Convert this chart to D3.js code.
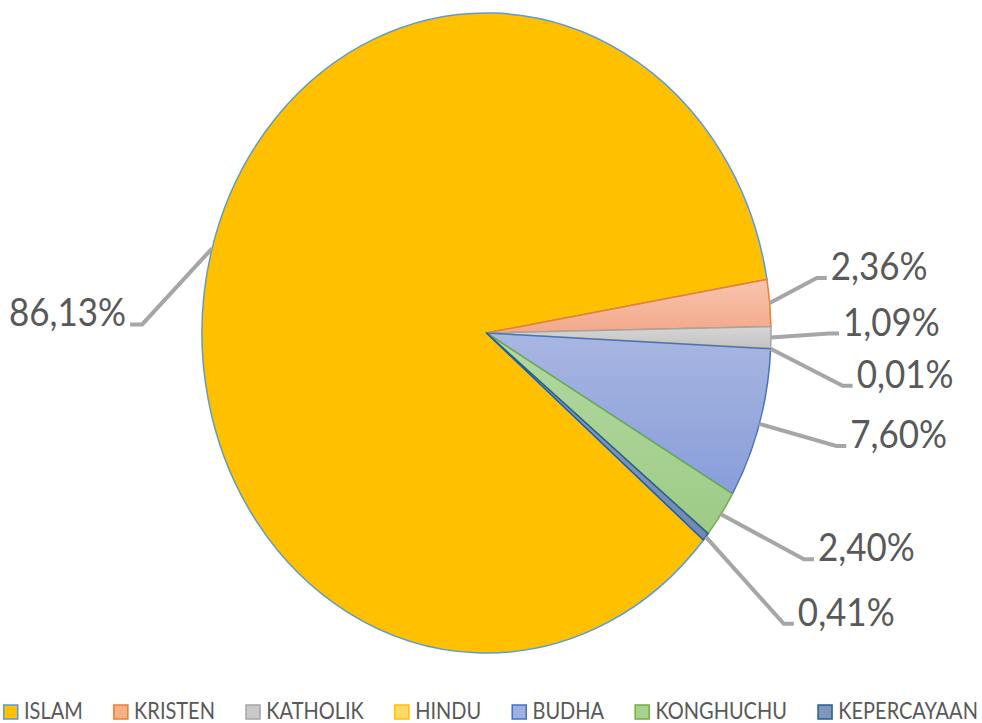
<!DOCTYPE html>
<html>
<head>
<meta charset="utf-8">
<script src="https://cdn.jsdelivr.net/npm/d3@7/dist/d3.min.js"></script>
<style>
  html, body { margin: 0; padding: 0; background: #fff; }
  svg { display: block; }
</style>
</head>
<body>
<svg id="chart" width="982" height="723"></svg>
<script>
// ---- data ----
const categories = ["ISLAM", "KRISTEN", "KATHOLIK", "HINDU", "BUDHA", "KONGHUCHU", "KEPERCAYAAN"];
const values = [86.13, 2.36, 1.09, 0.01, 7.60, 2.40, 0.41];

// ---- styles ----
const fillTop    = ["#FFC000", "#F8C5AE", "#D6D6D6", "#FFDC73", "#A8B6E1", "#B2D8A0", "#8DA2C6"];
const fillBottom = ["#FFC000", "#F3A889", "#C2C2C2", "#FFD454", "#889EDA", "#9ECB86", "#6F88B5"];
const strokes    = ["#5B9BD5", "#ED7D31", "#A5A5A5", "#FFC000", "#4472C4", "#70AD47", "#255E91"];
const legendFill = ["#FFC000", "#F4B183", "#C9C9C9", "#FFD966", "#9DB0E0", "#A9D18E", "#7F96BC"];

// label leader layout: elbow offset from slice edge point (px)
const labelElbow = [[-70, 76], [47, -25], [58, -4], [72, 37], [77, 22], [83, 45], [78, 87]];

const W = 982, H = 723;
const cx = 486.5, cy = 333, rx = 284.5, ry = 320;
const startDeg = 130.3;

const svg = d3.select("#chart");
const defs = svg.append("defs");
categories.forEach((c, i) => {
  const g = defs.append("linearGradient").attr("id", "grad" + i)
    .attr("x1", 0).attr("y1", 0).attr("x2", 0).attr("y2", 1);
  g.append("stop").attr("offset", "0%").attr("stop-color", fillTop[i]);
  g.append("stop").attr("offset", "100%").attr("stop-color", fillBottom[i]);
});

const data = categories.map((c, i) => ({ name: c, value: values[i], i }));
const start = startDeg * Math.PI / 180;
const pie = d3.pie().value(d => d.value).sort(null)
  .startAngle(start).endAngle(start + 2 * Math.PI);
const arcs = pie(data);
const arc = d3.arc().innerRadius(0).outerRadius(ry);

const pieG = svg.append("g")
  .attr("transform", `translate(${cx},${cy}) scale(${rx / ry},1)`);

pieG.selectAll("path.slice").data(arcs).enter().append("path")
  .attr("class", "slice")
  .attr("d", arc)
  .attr("fill", d => `url(#grad${d.data.i})`)
  .attr("stroke", d => strokes[d.data.i])
  .attr("stroke-width", 1.5)
  .attr("stroke-linejoin", "round")
  .attr("vector-effect", "non-scaling-stroke");

// labels
const fmt = v => d3.format(".2f")(v).replace(".", ",") + "%";
const labelG = svg.append("g");
arcs.forEach(a => {
  const i = a.data.i;
  const mid = (a.startAngle + a.endAngle) / 2;
  const ex = cx + rx * Math.sin(mid);
  const ey = cy - ry * Math.cos(mid);
  const bx = ex + labelElbow[i][0];
  const by = ey + labelElbow[i][1];
  const right = bx > ex;
  const endx = right ? bx + 10 : bx - 12;
  labelG.append("polyline")
    .attr("points", `${ex},${ey} ${bx},${by} ${endx},${by}`)
    .attr("fill", "none")
    .attr("stroke", "#A6A6A6")
    .attr("stroke-width", 4);
  const tx = right ? endx + 4 : endx - 4;
  labelG.append("text")
    .attr("transform", `translate(${tx},${by + 2}) scale(1,1.1)`)
    .attr("text-anchor", right ? "start" : "end")
    .attr("font-family", "Lato, 'Open Sans', sans-serif")
    .attr("font-size", 35)
    .attr("fill", "#595959")
    .text(fmt(a.data.value));
});

// legend
const legG = svg.append("g");
const items = legG.selectAll("g.item").data(categories).enter().append("g").attr("class", "item");
items.append("rect")
  .attr("width", 14).attr("height", 14)
  .attr("y", 705)
  .attr("fill", (d, i) => legendFill[i])
  .attr("stroke", (d, i) => strokes[i])
  .attr("stroke-width", 1.5);
items.append("text")
  .attr("font-family", "Lato, 'Open Sans', sans-serif")
  .attr("font-size", 20)
  .attr("fill", "#595959")
  .text(d => d);
// position items across the legend span
const legLeft = 3, legRight = 978;
let widths = [];
items.each(function () {
  const t = d3.select(this).select("text").node().getComputedTextLength();
  widths.push(21 + t);
});
const gap = (legRight - legLeft - d3.sum(widths)) / (widths.length - 1);
let x = legLeft;
items.each(function (d, i) {
  d3.select(this).select("rect").attr("x", x + 0.75);
  d3.select(this).select("text").attr("transform", `translate(${x + 21},719) scale(1,1.12)`);
  x += widths[i] + gap;
});
</script>
</body>
</html>
